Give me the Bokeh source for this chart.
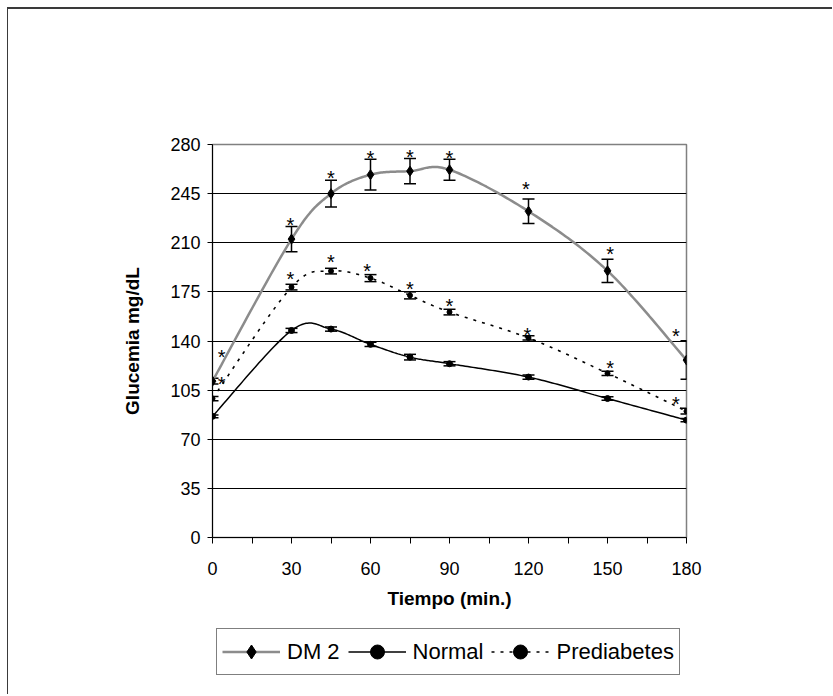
from bokeh.plotting import figure
from bokeh.layouts import column
from bokeh.models import (ColumnDataSource, Range1d, FixedTicker, Whisker, TeeHead,
                          Legend, LegendItem)
from bokeh.core.properties import value
from bokeh.embed import file_html
from bokeh.resources import INLINE

# ---- data ----
tiempo = [0, 30, 45, 60, 75, 90, 120, 150, 180]
dm2 = [111.4, 212.6, 245.0, 258.5, 261.0, 262.0, 232.4, 190.0, 126.4]
dm2_err = [2.0, 9.0, 9.5, 11.0, 9.0, 7.5, 8.7, 8.3, 13.7]
normal = [86.3, 147.5, 148.5, 137.6, 128.5, 123.8, 114.3, 99.0, 83.6]
normal_err = [1.0, 1.5, 1.5, 1.5, 2.0, 1.5, 1.5, 1.2, 1.2]
prediab = [99.0, 178.4, 189.8, 184.8, 172.5, 160.6, 142.2, 117.0, 90.0]
prediab_err = [1.5, 2.0, 2.0, 2.5, 2.5, 2.0, 1.5, 1.5, 2.0]

# significance marks ("*") as placed in the reference
star_dm2_x = [3.5, 29.6, 45, 60, 75, 90, 119, 151, 176]
star_dm2_y = [132, 226, 259.7, 274, 275, 274, 251.6, 205.8, 147]
star_pre_x = [3.5, 29.6, 45, 58.7, 75, 90, 119.6, 151, 176]
star_pre_y = [112.6, 187.5, 199.8, 193.2, 180.8, 168.4, 147.5, 124.5, 99]

series_names = ["DM 2", "Normal", "Prediabetes"]
y_ticks = [0, 35, 70, 105, 140, 175, 210, 245, 280]
x_ticks = [0, 30, 60, 90, 120, 150, 180]
x_minor = [15, 45, 75, 105, 135, 165]

FONT = "Liberation Sans"
BORDER = "#3a3a3a"

STY_DM2 = dict(line_color="#8c8c8c", line_width=2.5)
STY_NOR = dict(line_color="black", line_width=1.5)
STY_PRE = dict(line_color="black", line_width=1.6, line_dash="3 6")


def smooth(xs, ys, n=30):
    """Excel-style smoothed line (Catmull-Rom Bezier, tension 1/6)."""
    px, py = [], []
    m = len(xs)
    for i in range(m - 1):
        i0 = i - 1 if i > 0 else i
        i3 = i + 2 if i + 2 < m else i + 1
        x0, y0 = xs[i0], ys[i0]
        x1, y1 = xs[i], ys[i]
        x2, y2 = xs[i + 1], ys[i + 1]
        x3, y3 = xs[i3], ys[i3]
        c1x, c1y = x1 + (x2 - x0) / 6.0, y1 + (y2 - y0) / 6.0
        c2x, c2y = x2 - (x3 - x1) / 6.0, y2 - (y3 - y1) / 6.0
        start = 0 if i == 0 else 1
        for k in range(start, n + 1):
            t = k / n
            a = (1 - t) ** 3
            b = 3 * (1 - t) ** 2 * t
            c = 3 * (1 - t) * t ** 2
            d = t ** 3
            px.append(a * x1 + b * c1x + c * c2x + d * x2)
            py.append(a * y1 + b * c1y + c * c2y + d * y2)
    return px, py


# ---------------- main chart ----------------
fig = figure(width=825, height=621, output_backend="svg", toolbar_location=None,
             x_range=Range1d(0, 180), y_range=Range1d(0, 280),
             min_border_left=204, min_border_right=147,
             min_border_top=135, min_border_bottom=93)
fig.margin = (7, 0, 0, 7)
fig.styles = {"border-top": "2px solid " + BORDER, "border-left": "1px solid " + BORDER}

fig.background_fill_color = "white"
fig.border_fill_color = "white"
fig.outline_line_color = "#808080"
fig.outline_line_width = 1.5

fig.xgrid.visible = False
fig.ygrid.ticker = FixedTicker(ticks=y_ticks[1:-1])
fig.ygrid.grid_line_color = "black"
fig.ygrid.grid_line_width = 1

fig.xaxis.ticker = FixedTicker(ticks=x_ticks, minor_ticks=x_minor)
fig.yaxis.ticker = FixedTicker(ticks=y_ticks)
for ax in (fig.xaxis[0], fig.yaxis[0]):
    ax.axis_line_color = "black"
    ax.axis_line_width = 1
    ax.major_tick_line_color = "black"
    ax.major_tick_in = 0
    ax.major_label_text_font = FONT
    ax.major_label_text_font_size = "18px"
    ax.major_label_text_color = "black"
    ax.axis_label_text_font = FONT
    ax.axis_label_text_font_style = "bold"
    ax.axis_label_text_font_size = "19px"
    ax.axis_label_text_color = "black"
fig.xaxis.major_tick_out = 6
fig.xaxis.minor_tick_out = 6
fig.xaxis.minor_tick_in = 0
fig.xaxis.minor_tick_line_color = "black"
fig.yaxis.major_tick_out = 5
fig.yaxis.minor_tick_line_color = None
fig.xaxis.major_label_standoff = 18
fig.yaxis.major_label_standoff = 7
fig.xaxis.axis_label = "Tiempo (min.)"
fig.yaxis.axis_label = "Glucemia mg/dL"
fig.xaxis.axis_label_standoff = 10
fig.yaxis.axis_label_standoff = 24

sx, sy = smooth(tiempo, dm2)
fig.line(sx, sy, **STY_DM2)
sx, sy = smooth(tiempo, normal)
fig.line(sx, sy, **STY_NOR)
sx, sy = smooth(tiempo, prediab)
fig.line(sx, sy, **STY_PRE)


def err_bars(vals, errs):
    src = ColumnDataSource(dict(x=tiempo,
                                lo=[v - e for v, e in zip(vals, errs)],
                                hi=[v + e for v, e in zip(vals, errs)]))
    wk = Whisker(base="x", lower="lo", upper="hi", source=src,
                 line_color="black", line_width=1.5,
                 upper_head=TeeHead(size=12, line_color="black", line_width=1.5),
                 lower_head=TeeHead(size=12, line_color="black", line_width=1.5))
    fig.add_layout(wk)


err_bars(dm2, dm2_err)
err_bars(normal, normal_err)
err_bars(prediab, prediab_err)

fig.scatter(tiempo, dm2, marker="diamond", size=10, fill_color="black", line_color="black")
fig.scatter(tiempo, normal, marker="circle", size=6, fill_color="black", line_color="black")
fig.scatter(tiempo, prediab, marker="circle", size=5, fill_color="black", line_color="black")

for xs_, ys_ in ((star_dm2_x, star_dm2_y), (star_pre_x, star_pre_y)):
    fig.text(xs_, ys_, text=["*"] * len(xs_), text_font=value(FONT),
             text_font_size="20px", text_align="center", text_baseline="middle",
             y_offset=5, text_color="black")

# ---------------- legend strip (frame aligned with the chart's frame) ----------------
leg = figure(width=825, height=66, output_backend="svg", toolbar_location=None,
             x_range=Range1d(0, 1), y_range=Range1d(0, 1),
             x_axis_type=None, y_axis_type=None, min_border=0)
leg.margin = (0, 0, 0, 7)
leg.styles = {"border-left": "1px solid " + BORDER}
leg.outline_line_color = None
leg.background_fill_color = "white"
leg.border_fill_color = "white"
leg.grid.visible = False

# legend proxies: styled like the chart's series, kept outside the visible range
proxy_x = [5, 6]
proxy_y = [5, 6]
r1 = leg.line(proxy_x, proxy_y, **STY_DM2)
r1m = leg.scatter(proxy_x, proxy_y, marker="diamond", size=10, fill_color="black", line_color="black")
r2 = leg.line(proxy_x, proxy_y, **STY_NOR)
r2m = leg.scatter(proxy_x, proxy_y, marker="circle", size=6, fill_color="black", line_color="black")
r3 = leg.line(proxy_x, proxy_y, **STY_PRE)
r3m = leg.scatter(proxy_x, proxy_y, marker="circle", size=5, fill_color="black", line_color="black")

legend = Legend(items=[
    LegendItem(label=series_names[0], renderers=[r1, r1m]),
    LegendItem(label=series_names[1], renderers=[r2, r2m]),
    LegendItem(label=series_names[2], renderers=[r3, r3m]),
], orientation="horizontal", location=(4, 19))
legend.margin = 0
legend.padding = 5
legend.spacing = 8
legend.glyph_width = 58
legend.glyph_height = 35
legend.label_height = 35
legend.label_standoff = 7
legend.label_text_font = FONT
legend.label_text_font_size = "22px"
legend.label_text_color = "black"
legend.border_line_color = "black"
legend.border_line_width = 1
legend.background_fill_alpha = 1.0
leg.add_layout(legend)

p = column(fig, leg, spacing=0)

open("out.html", "w").write(file_html(p, INLINE))
